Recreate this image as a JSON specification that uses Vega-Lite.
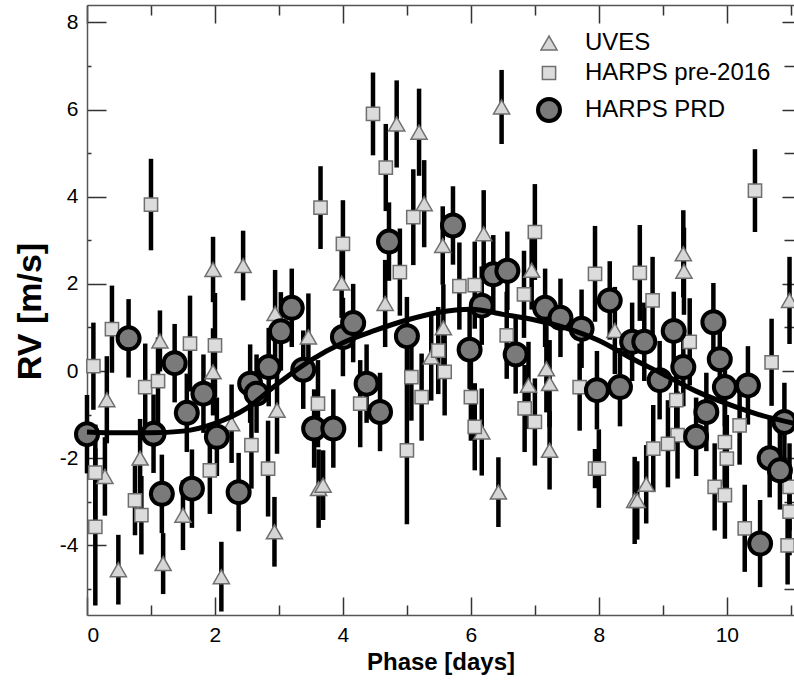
{
  "$schema": "https://vega.github.io/schema/vega-lite/v6.json",
  "width": 707,
  "height": 610,
  "autosize": {"type": "none"},
  "padding": {"left": 87, "top": 5, "right": 0, "bottom": 66},
  "background": "white",
  "config": {
    "view": {"stroke": null},
    "font": "Liberation Sans",
    "axis": {
      "domainColor": "#555555",
      "domainWidth": 1.5,
      "ticks": false,
      "gridColor": "#333333",
      "gridWidth": 1.5,
      "gridOpacity": 1,
      "labelFont": "Liberation Sans",
      "labelFontSize": 21,
      "labelColor": "black",
      "titleFont": "Liberation Sans",
      "titleColor": "black",
      "titleFontWeight": "bold"
    },
    "legend": {
      "labelFont": "Liberation Sans",
      "labelFontSize": 24,
      "labelColor": "black",
      "labelLimit": 400
    }
  },
  "datasets": {
    "pts": [
      {"series": "UVES", "phase": 0.31, "rv": -0.66, "err": 1.0},
      {"series": "UVES", "phase": 0.28, "rv": -2.42, "err": 0.9},
      {"series": "UVES", "phase": 0.49, "rv": -4.56, "err": 0.8},
      {"series": "UVES", "phase": 0.83, "rv": -2.0, "err": 0.9},
      {"series": "UVES", "phase": 1.14, "rv": 0.69, "err": 0.7},
      {"series": "UVES", "phase": 1.19, "rv": -4.42, "err": 0.7},
      {"series": "UVES", "phase": 1.5, "rv": -3.31, "err": 0.8},
      {"series": "UVES", "phase": 1.97, "rv": 2.33, "err": 0.75},
      {"series": "UVES", "phase": 2.44, "rv": 2.42, "err": 0.8},
      {"series": "UVES", "phase": 2.1, "rv": -4.72, "err": 0.8},
      {"series": "UVES", "phase": 1.97, "rv": -0.02, "err": 1.0},
      {"series": "UVES", "phase": 2.26, "rv": -1.21, "err": 0.9},
      {"series": "UVES", "phase": 2.93, "rv": -3.69, "err": 0.8},
      {"series": "UVES", "phase": 2.97, "rv": -0.9, "err": 1.0},
      {"series": "UVES", "phase": 2.94, "rv": 1.32, "err": 1.0},
      {"series": "UVES", "phase": 3.46, "rv": 0.78, "err": 1.0},
      {"series": "UVES", "phase": 3.62, "rv": -2.7, "err": 0.9},
      {"series": "UVES", "phase": 3.69, "rv": -2.62, "err": 0.8},
      {"series": "UVES", "phase": 3.98, "rv": 2.02, "err": 0.8},
      {"series": "UVES", "phase": 4.66, "rv": 1.55, "err": 1.0},
      {"series": "UVES", "phase": 4.84, "rv": 5.67, "err": 1.0},
      {"series": "UVES", "phase": 5.19, "rv": 5.48, "err": 1.0},
      {"series": "UVES", "phase": 5.27, "rv": 3.84, "err": 1.0},
      {"series": "UVES", "phase": 5.38, "rv": 0.32, "err": 1.0},
      {"series": "UVES", "phase": 5.56, "rv": 2.88, "err": 0.9},
      {"series": "UVES", "phase": 5.57, "rv": 0.99, "err": 1.0},
      {"series": "UVES", "phase": 6.2, "rv": 3.15, "err": 1.0},
      {"series": "UVES", "phase": 6.48, "rv": 6.06, "err": 0.85},
      {"series": "UVES", "phase": 6.95, "rv": 2.31, "err": 0.9},
      {"series": "UVES", "phase": 7.18, "rv": 0.05, "err": 1.0},
      {"series": "UVES", "phase": 7.23, "rv": -0.29, "err": 1.0},
      {"series": "UVES", "phase": 7.23, "rv": -1.82, "err": 0.9},
      {"series": "UVES", "phase": 6.43, "rv": -2.78, "err": 0.8},
      {"series": "UVES", "phase": 6.17, "rv": -1.4, "err": 1.0},
      {"series": "UVES", "phase": 6.9, "rv": -0.33, "err": 1.0},
      {"series": "UVES", "phase": 8.56, "rv": -2.97, "err": 1.0},
      {"series": "UVES", "phase": 8.25, "rv": 0.93, "err": 1.0},
      {"series": "UVES", "phase": 9.32, "rv": 2.69, "err": 1.0},
      {"series": "UVES", "phase": 9.33, "rv": 2.29, "err": 1.0},
      {"series": "UVES", "phase": 10.98, "rv": 1.62, "err": 1.0},
      {"series": "UVES", "phase": 8.74, "rv": -2.6, "err": 0.9},
      {"series": "UVES", "phase": 8.6, "rv": -2.97, "err": 0.9},
      {"series": "HARPS pre-2016", "phase": 0.1, "rv": 0.11, "err": 1.0},
      {"series": "HARPS pre-2016", "phase": 0.13, "rv": -3.58, "err": 1.8},
      {"series": "HARPS pre-2016", "phase": 0.13, "rv": -2.33, "err": 1.1},
      {"series": "HARPS pre-2016", "phase": 0.39, "rv": 0.96, "err": 1.0},
      {"series": "HARPS pre-2016", "phase": 1.0, "rv": 3.82, "err": 1.05},
      {"series": "HARPS pre-2016", "phase": 0.75, "rv": -2.97, "err": 0.8},
      {"series": "HARPS pre-2016", "phase": 0.85, "rv": -3.31, "err": 0.9},
      {"series": "HARPS pre-2016", "phase": 0.91, "rv": -0.37, "err": 1.0},
      {"series": "HARPS pre-2016", "phase": 1.11, "rv": -0.23, "err": 1.0},
      {"series": "HARPS pre-2016", "phase": 1.61, "rv": 0.63, "err": 1.1},
      {"series": "HARPS pre-2016", "phase": 2.0, "rv": 0.59, "err": 1.2},
      {"series": "HARPS pre-2016", "phase": 1.92, "rv": -2.28, "err": 1.0},
      {"series": "HARPS pre-2016", "phase": 2.57, "rv": -1.7, "err": 1.0},
      {"series": "HARPS pre-2016", "phase": 2.83, "rv": -2.24, "err": 1.1},
      {"series": "HARPS pre-2016", "phase": 3.65, "rv": 3.75, "err": 0.95},
      {"series": "HARPS pre-2016", "phase": 4.47, "rv": 5.9, "err": 0.95},
      {"series": "HARPS pre-2016", "phase": 4.67, "rv": 4.67, "err": 1.0},
      {"series": "HARPS pre-2016", "phase": 4.0, "rv": 2.92, "err": 1.0},
      {"series": "HARPS pre-2016", "phase": 5.1, "rv": 3.53, "err": 1.1},
      {"series": "HARPS pre-2016", "phase": 4.89, "rv": 2.27, "err": 1.0},
      {"series": "HARPS pre-2016", "phase": 7.0, "rv": 3.19, "err": 1.1},
      {"series": "HARPS pre-2016", "phase": 5.82, "rv": 1.95, "err": 1.0},
      {"series": "HARPS pre-2016", "phase": 6.06, "rv": 1.97, "err": 1.0},
      {"series": "HARPS pre-2016", "phase": 6.83, "rv": 1.76, "err": 1.0},
      {"series": "HARPS pre-2016", "phase": 6.56, "rv": 0.82, "err": 1.0},
      {"series": "HARPS pre-2016", "phase": 5.49, "rv": 0.47, "err": 1.0},
      {"series": "HARPS pre-2016", "phase": 3.61, "rv": -0.75, "err": 1.0},
      {"series": "HARPS pre-2016", "phase": 4.27, "rv": -0.75, "err": 1.0},
      {"series": "HARPS pre-2016", "phase": 5.59, "rv": -0.02, "err": 1.0},
      {"series": "HARPS pre-2016", "phase": 5.23, "rv": -0.6, "err": 1.0},
      {"series": "HARPS pre-2016", "phase": 5.0, "rv": -1.82, "err": 1.7},
      {"series": "HARPS pre-2016", "phase": 5.07, "rv": -0.14, "err": 1.0},
      {"series": "HARPS pre-2016", "phase": 6.84, "rv": -0.86, "err": 1.0},
      {"series": "HARPS pre-2016", "phase": 7.0, "rv": -1.17, "err": 1.0},
      {"series": "HARPS pre-2016", "phase": 6.06, "rv": -1.28, "err": 1.0},
      {"series": "HARPS pre-2016", "phase": 6.0, "rv": -0.6, "err": 1.0},
      {"series": "HARPS pre-2016", "phase": 7.7, "rv": -0.37, "err": 1.0},
      {"series": "HARPS pre-2016", "phase": 7.94, "rv": -2.24, "err": 0.45},
      {"series": "HARPS pre-2016", "phase": 7.94, "rv": 2.23, "err": 1.1},
      {"series": "HARPS pre-2016", "phase": 8.64, "rv": 2.25, "err": 1.1},
      {"series": "HARPS pre-2016", "phase": 8.84, "rv": 1.62, "err": 1.0},
      {"series": "HARPS pre-2016", "phase": 10.44, "rv": 4.14, "err": 0.95},
      {"series": "HARPS pre-2016", "phase": 10.7, "rv": 0.2, "err": 1.0},
      {"series": "HARPS pre-2016", "phase": 9.42, "rv": 0.67, "err": 1.0},
      {"series": "HARPS pre-2016", "phase": 9.21, "rv": -0.67, "err": 1.0},
      {"series": "HARPS pre-2016", "phase": 9.23, "rv": -1.47, "err": 1.0},
      {"series": "HARPS pre-2016", "phase": 9.08, "rv": -1.67, "err": 1.0},
      {"series": "HARPS pre-2016", "phase": 8.85, "rv": -1.78, "err": 1.0},
      {"series": "HARPS pre-2016", "phase": 10.2, "rv": -1.25, "err": 0.9},
      {"series": "HARPS pre-2016", "phase": 9.97, "rv": -1.63, "err": 1.0},
      {"series": "HARPS pre-2016", "phase": 10.0, "rv": -2.01, "err": 1.0},
      {"series": "HARPS pre-2016", "phase": 9.81, "rv": -2.66, "err": 1.0},
      {"series": "HARPS pre-2016", "phase": 9.97, "rv": -2.85, "err": 1.0},
      {"series": "HARPS pre-2016", "phase": 10.28, "rv": -3.61, "err": 1.0},
      {"series": "HARPS pre-2016", "phase": 8.0, "rv": -2.24, "err": 0.9},
      {"series": "HARPS pre-2016", "phase": 10.98, "rv": -2.66, "err": 1.0},
      {"series": "HARPS pre-2016", "phase": 10.98, "rv": -3.23, "err": 1.0},
      {"series": "HARPS pre-2016", "phase": 10.95, "rv": -4.0, "err": 0.9},
      {"series": "HARPS PRD", "phase": 0.0, "rv": -1.45, "err": 0.9},
      {"series": "HARPS PRD", "phase": 0.65, "rv": 0.75, "err": 0.9},
      {"series": "HARPS PRD", "phase": 1.04, "rv": -1.44, "err": 0.9},
      {"series": "HARPS PRD", "phase": 1.17, "rv": -2.82, "err": 0.9},
      {"series": "HARPS PRD", "phase": 1.37, "rv": 0.18, "err": 0.9},
      {"series": "HARPS PRD", "phase": 1.56, "rv": -0.96, "err": 0.9},
      {"series": "HARPS PRD", "phase": 1.64, "rv": -2.7, "err": 0.9},
      {"series": "HARPS PRD", "phase": 1.82, "rv": -0.52, "err": 0.9},
      {"series": "HARPS PRD", "phase": 2.03, "rv": -1.51, "err": 0.9},
      {"series": "HARPS PRD", "phase": 2.37, "rv": -2.78, "err": 0.9},
      {"series": "HARPS PRD", "phase": 2.55, "rv": -0.29, "err": 0.9},
      {"series": "HARPS PRD", "phase": 2.65, "rv": -0.52, "err": 0.9},
      {"series": "HARPS PRD", "phase": 2.84, "rv": 0.09, "err": 0.9},
      {"series": "HARPS PRD", "phase": 3.03, "rv": 0.91, "err": 0.9},
      {"series": "HARPS PRD", "phase": 3.2, "rv": 1.45, "err": 0.9},
      {"series": "HARPS PRD", "phase": 3.38, "rv": 0.03, "err": 0.9},
      {"series": "HARPS PRD", "phase": 3.55, "rv": -1.32, "err": 0.9},
      {"series": "HARPS PRD", "phase": 3.85, "rv": -1.32, "err": 0.9},
      {"series": "HARPS PRD", "phase": 4.0, "rv": 0.78, "err": 0.9},
      {"series": "HARPS PRD", "phase": 4.16, "rv": 1.1, "err": 0.9},
      {"series": "HARPS PRD", "phase": 4.37, "rv": -0.29, "err": 0.9},
      {"series": "HARPS PRD", "phase": 4.58, "rv": -0.94, "err": 0.9},
      {"series": "HARPS PRD", "phase": 4.72, "rv": 2.97, "err": 0.9},
      {"series": "HARPS PRD", "phase": 5.0, "rv": 0.8, "err": 0.9},
      {"series": "HARPS PRD", "phase": 5.72, "rv": 3.34, "err": 0.9},
      {"series": "HARPS PRD", "phase": 5.98, "rv": 0.49, "err": 0.9},
      {"series": "HARPS PRD", "phase": 6.17, "rv": 1.5, "err": 0.9},
      {"series": "HARPS PRD", "phase": 6.35, "rv": 2.22, "err": 0.9},
      {"series": "HARPS PRD", "phase": 6.57, "rv": 2.3, "err": 0.9},
      {"series": "HARPS PRD", "phase": 6.7, "rv": 0.38, "err": 0.9},
      {"series": "HARPS PRD", "phase": 7.16, "rv": 1.45, "err": 0.9},
      {"series": "HARPS PRD", "phase": 7.4, "rv": 1.22, "err": 0.9},
      {"series": "HARPS PRD", "phase": 7.73, "rv": 0.97, "err": 0.9},
      {"series": "HARPS PRD", "phase": 7.97, "rv": -0.44, "err": 0.9},
      {"series": "HARPS PRD", "phase": 8.17, "rv": 1.62, "err": 0.9},
      {"series": "HARPS PRD", "phase": 8.33, "rv": -0.37, "err": 0.9},
      {"series": "HARPS PRD", "phase": 8.52, "rv": 0.67, "err": 0.9},
      {"series": "HARPS PRD", "phase": 8.71, "rv": 0.67, "err": 0.9},
      {"series": "HARPS PRD", "phase": 8.95, "rv": -0.21, "err": 0.9},
      {"series": "HARPS PRD", "phase": 9.17, "rv": 0.92, "err": 0.9},
      {"series": "HARPS PRD", "phase": 9.32, "rv": 0.09, "err": 0.9},
      {"series": "HARPS PRD", "phase": 9.52, "rv": -1.51, "err": 0.9},
      {"series": "HARPS PRD", "phase": 9.68, "rv": -0.94, "err": 0.9},
      {"series": "HARPS PRD", "phase": 9.79, "rv": 1.12, "err": 0.9},
      {"series": "HARPS PRD", "phase": 9.89, "rv": 0.27, "err": 0.9},
      {"series": "HARPS PRD", "phase": 9.97, "rv": -0.37, "err": 0.9},
      {"series": "HARPS PRD", "phase": 10.33, "rv": -0.33, "err": 0.9},
      {"series": "HARPS PRD", "phase": 10.52, "rv": -3.96, "err": 1.0},
      {"series": "HARPS PRD", "phase": 10.67, "rv": -2.0, "err": 0.9},
      {"series": "HARPS PRD", "phase": 10.83, "rv": -2.28, "err": 0.9},
      {"series": "HARPS PRD", "phase": 10.9, "rv": -1.17, "err": 0.9}
    ],
    "fit": [
      {"phase": 0.0, "rv": -1.4},
      {"phase": 0.5, "rv": -1.42},
      {"phase": 1.0, "rv": -1.42},
      {"phase": 1.5, "rv": -1.38},
      {"phase": 2.0, "rv": -1.2},
      {"phase": 2.5, "rv": -0.85},
      {"phase": 3.0, "rv": -0.27},
      {"phase": 3.5, "rv": 0.25},
      {"phase": 4.0, "rv": 0.65},
      {"phase": 4.5, "rv": 0.93},
      {"phase": 5.0, "rv": 1.17},
      {"phase": 5.5, "rv": 1.35},
      {"phase": 6.0, "rv": 1.42},
      {"phase": 6.5, "rv": 1.3},
      {"phase": 7.0, "rv": 1.17},
      {"phase": 7.5, "rv": 0.98},
      {"phase": 8.0, "rv": 0.7},
      {"phase": 8.5, "rv": 0.3},
      {"phase": 9.0, "rv": -0.07},
      {"phase": 9.5, "rv": -0.45},
      {"phase": 10.0, "rv": -0.75},
      {"phase": 10.5, "rv": -1.0},
      {"phase": 11.05, "rv": -1.2}
    ]
  },
  "resolve": {"axis": {"x": "independent", "y": "independent"}},
  "layer": [
    {
      "data": {"name": "pts"},
      "mark": {"type": "errorbar", "ticks": false, "thickness": 4.5, "color": "black"},
      "encoding": {
        "x": {
          "field": "phase", "type": "quantitative",
          "scale": {"domain": [0, 11.05], "nice": false, "zero": false},
          "axis": {
            "orient": "bottom",
            "values": [0, 2, 4, 6, 8, 10],
            "labelExpr": "'' + datum.value",
            "labelPadding": 9,
            "domain": true,
            "grid": true,
            "gridDash": [18, 574, 18, 2000],
            "title": "Phase [days]",
            "titleFontSize": 24,
            "titleX": 353.5,
            "titleY": 47,
            "titleBaseline": "middle",
            "titleAlign": "center"
          }
        },
        "y": {
          "field": "rv", "type": "quantitative",
          "scale": {"domain": [-5.6, 8.4], "nice": false, "zero": false},
          "axis": {
            "orient": "left",
            "values": [-4, -2, 0, 2, 4, 6, 8],
            "labelExpr": "'' + datum.value",
            "labelPadding": 9,
            "domain": true,
            "grid": true,
            "gridDash": [19, 676, 12, 2000],
            "title": "RV [m/s]",
            "titleFontSize": 34,
            "titleAngle": -90,
            "titleX": -57,
            "titleY": 306,
            "titleBaseline": "middle",
            "titleAlign": "center"
          }
        },
        "yError": {"field": "err"}
      }
    },
    {
      "data": {"name": "pts"},
      "mark": {"type": "point", "filled": true, "opacity": 1},
      "encoding": {
        "x": {
          "field": "phase", "type": "quantitative",
          "axis": {
            "orient": "top",
            "values": [1, 3, 5, 7, 9, 11],
            "labels": false,
            "domain": true,
            "grid": true,
            "gridDash": [10, 590, 10, 2000],
            "title": null
          }
        },
        "y": {
          "field": "rv", "type": "quantitative",
          "axis": {
            "orient": "right",
            "values": [-5, -3, -1, 1, 3, 5, 7],
            "labels": false,
            "domain": false,
            "grid": true,
            "gridDash": [10, 693, 4, 2000],
            "title": null
          }
        },
        "shape": {
          "field": "series", "type": "ordinal",
          "scale": {"type": "ordinal", "domain": ["UVES", "HARPS pre-2016", "HARPS PRD"], "range": ["triangle-up", "square", "circle"]},
          "legend": {
            "title": null,
            "orient": "none",
            "legendX": 449,
            "legendY": 26,
            "labelOffset": 23,
            "rowPadding": 6
          }
        },
        "fill": {
          "field": "series", "type": "ordinal",
          "scale": {"type": "ordinal", "domain": ["UVES", "HARPS pre-2016", "HARPS PRD"], "range": ["#d6d6d6", "#dcdcdc", "#7a7a7a"]}
        },
        "stroke": {
          "field": "series", "type": "ordinal",
          "scale": {"type": "ordinal", "domain": ["UVES", "HARPS pre-2016", "HARPS PRD"], "range": ["#6f6f6f", "#6f6f6f", "#000000"]}
        },
        "size": {
          "field": "series", "type": "ordinal",
          "scale": {"type": "ordinal", "domain": ["UVES", "HARPS pre-2016", "HARPS PRD"], "range": [260, 175, 484]}
        },
        "strokeWidth": {
          "field": "series", "type": "ordinal",
          "scale": {"type": "ordinal", "domain": ["UVES", "HARPS pre-2016", "HARPS PRD"], "range": [1.5, 1.5, 4]}
        },
        "order": {"field": "series", "sort": "descending"}
      }
    },
    {
      "data": {"name": "fit"},
      "mark": {"type": "line", "color": "black", "strokeWidth": 5, "interpolate": "monotone"},
      "encoding": {
        "x": {"field": "phase", "type": "quantitative", "axis": null},
        "y": {"field": "rv", "type": "quantitative", "axis": null}
      }
    }
  ]
}
